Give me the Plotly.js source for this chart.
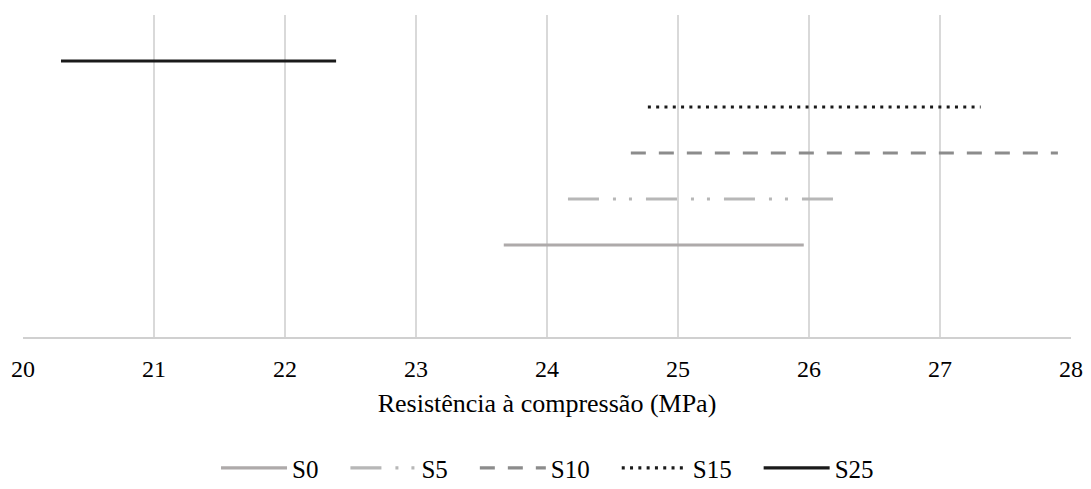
<!DOCTYPE html>
<html>
<head>
<meta charset="utf-8">
<script src="https://cdn.plot.ly/plotly-3.0.1.min.js"></script>
<style>html,body{margin:0;padding:0;background:#fff;}#chart{width:1091px;height:489px;}</style>
</head>
<body>
<div id="chart"></div>
<script>
const categories = ['S0', 'S5', 'S10', 'S15', 'S25'];
const xStart = [23.67, 24.16, 24.64, 24.77, 20.29];
const xEnd = [25.96, 26.28, 27.90, 27.31, 22.39];
const yLevel = [2, 3, 4, 5, 6];
const xTicks = [20, 21, 22, 23, 24, 25, 26, 27, 28];

const styles = {
  'S0':  {color: '#aeaaaa', dash: 'solid'},
  'S5':  {color: '#b7b7b7', dash: '31px,14px,3px,13px,3px,14px'},
  'S10': {color: '#8c8c8c', dash: '15px,13px'},
  'S15': {color: '#1a1a1a', dash: '3px,5.3px'},
  'S25': {color: '#1a1a1a', dash: 'solid'}
};

const traces = categories.map((c, i) => ({
  type: 'scatter',
  mode: 'lines',
  name: c,
  x: [xStart[i], xEnd[i]],
  y: [yLevel[i], yLevel[i]],
  line: {color: styles[c].color, dash: styles[c].dash, width: 3.2, shape: 'linear'},
  hoverinfo: 'skip'
}));

const fam = 'Liberation Serif, Times New Roman, serif';

const layout = {
  width: 1091,
  height: 489,
  margin: {l: 23, r: 20, t: 15, b: 152, autoexpand: false},
  paper_bgcolor: '#fff',
  plot_bgcolor: '#fff',
  showlegend: true,
  font: {family: fam, size: 22, color: '#000'},
  xaxis: {
    range: [20, 28],
    tickvals: xTicks,
    ticktext: xTicks.map(String),
    showgrid: true,
    gridcolor: '#d9d9d9',
    gridwidth: 1.5,
    showline: true,
    linecolor: '#d0d0d0',
    linewidth: 1.5,
    zeroline: false,
    ticks: 'outside',
    ticklen: 10,
    tickcolor: 'rgba(0,0,0,0)',
    tickfont: {family: fam, size: 24, color: '#000'},
    title: {text: 'Resistência à compressão (MPa)', font: {family: fam, size: 26, color: '#000'}, standoff: 12},
    automargin: false,
    fixedrange: true
  },
  yaxis: {
    range: [0, 7],
    showgrid: false,
    showline: false,
    zeroline: false,
    showticklabels: false,
    ticks: '',
    fixedrange: true
  },
  legend: {
    orientation: 'h',
    x: 0.49,
    xanchor: 'center',
    y: -0.407,
    yanchor: 'middle',
    font: {family: fam, size: 25, color: '#000'},
    itemwidth: 88,
    bgcolor: 'rgba(0,0,0,0)'
  }
};

Plotly.newPlot('chart', traces, layout, {staticPlot: true, displayModeBar: false}).then(function (gd) {
  // longer legend line samples placed just before each label
  document.querySelectorAll('.legendlines path').forEach(function (p) {
    p.setAttribute('d', 'M27,0h66');
  });
});
</script>
</body>
</html>
